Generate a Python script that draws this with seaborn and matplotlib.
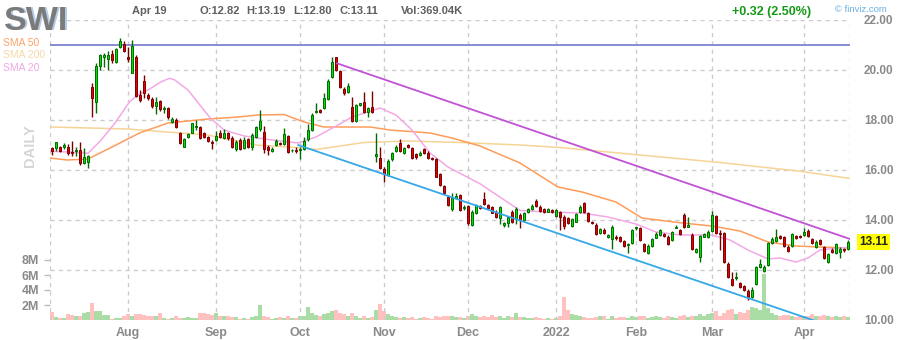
import numpy as np
import pandas as pd
import matplotlib
matplotlib.use("Agg")
import matplotlib.pyplot as plt
import seaborn as sns
from matplotlib.transforms import blended_transform_factory

# ---------------- data ----------------
ticker = "SWI"
month_labels = ["Aug", "Sep", "Oct", "Nov", "Dec", "2022", "Feb", "Mar", "Apr"]
month_index = [19, 41, 62, 83, 104, 126, 146, 165, 188]

opens = [16.87, 16.87, 16.91, 16.91, 16.91, 16.73, 16.76, 16.80, 16.29, 16.32,
         19.31, 18.73, 20.16, 20.51, 20.43, 20.64, 20.33, 20.93, 21.04, 20.51,
         19.89, 20.51, 19.00, 19.56, 19.00, 18.83, 18.56, 18.76, 18.43, 18.47,
         17.92, 18.00, 17.47, 16.93, 17.31, 17.49, 17.74, 17.71, 17.47, 17.31,
         17.13, 17.20, 17.47, 17.27, 17.47, 17.27, 16.83, 17.20, 16.87, 17.23,
         16.93, 17.31, 17.63, 17.53, 16.93, 16.76, 17.00, 17.09, 17.04, 17.36,
         16.78, 16.80, 16.79, 16.83, 17.23, 17.60, 18.32, 18.40, 18.47, 18.83,
         19.71, 20.51, 19.97, 19.23, 19.13, 18.51, 17.97, 18.60, 18.73, 18.33,
         18.53, 16.56, 16.47, 16.03, 15.80, 16.43, 16.77, 17.09, 16.67, 17.00,
         16.87, 16.64, 16.60, 16.83, 16.69, 16.47, 16.43, 15.84, 15.36, 14.93,
         14.43, 14.87, 15.00, 14.47, 14.56, 13.80, 14.29, 14.56, 14.83, 14.60,
         14.51, 14.33, 14.07, 13.80, 13.89, 14.33, 14.04, 14.20, 14.00, 14.31,
         14.44, 14.76, 14.53, 14.44, 14.33, 14.40, 14.17, 14.31, 14.13, 14.09,
         13.77, 13.93, 14.31, 14.67, 14.27, 13.91, 13.80, 13.47, 13.60, 13.33,
         13.24, 13.33, 13.33, 13.16, 13.00, 13.07, 13.67, 13.69, 13.03, 12.67,
         12.97, 13.29, 13.40, 13.43, 13.33, 13.20, 13.69, 13.60, 14.20, 13.73,
         13.40, 12.73, 12.51, 13.33, 13.31, 13.57, 14.16, 13.49, 13.49, 12.24,
         11.63, 11.67, 11.49, 11.36, 11.17, 10.91, 11.44, 12.13, 11.97, 12.20,
         13.09, 13.17, 13.36, 13.33, 12.93, 12.96, 13.36, 13.36, 13.40, 13.57,
         13.23, 12.93, 13.20, 12.93, 12.33, 12.80, 12.67, 12.73, 12.83, 12.82]
highs = [16.93, 17.13, 16.95, 17.07, 17.04, 17.17, 16.93, 17.10, 16.90, 16.62,
         19.49, 20.27, 20.64, 20.69, 20.77, 20.80, 20.87, 21.27, 21.17, 20.93,
         21.20, 20.60, 19.20, 19.80, 19.07, 18.93, 18.93, 18.80, 18.56, 18.51,
         18.11, 18.07, 17.53, 17.27, 17.49, 17.89, 18.00, 17.76, 17.53, 17.36,
         17.20, 17.57, 17.60, 17.63, 17.53, 17.36, 17.20, 17.27, 17.31, 17.27,
         17.47, 17.76, 18.40, 17.76, 17.00, 16.91, 17.23, 17.13, 17.67, 17.40,
         16.84, 16.93, 16.93, 17.31, 17.84, 18.27, 18.67, 18.43, 19.09, 19.63,
         20.53, 20.53, 20.00, 19.33, 19.47, 18.93, 18.64, 18.69, 19.13, 18.53,
         19.17, 17.47, 16.93, 16.13, 16.43, 16.73, 17.00, 17.23, 16.93, 17.04,
         16.93, 16.69, 16.77, 16.87, 16.77, 16.51, 16.47, 15.89, 15.40, 15.00,
         15.07, 15.09, 15.04, 14.60, 14.60, 14.40, 14.64, 14.60, 15.13, 14.64,
         14.56, 14.40, 14.56, 13.93, 14.16, 14.40, 14.52, 14.27, 14.33, 14.49,
         14.63, 14.84, 14.60, 14.49, 14.47, 14.44, 14.44, 14.36, 14.20, 14.13,
         14.09, 14.27, 14.60, 14.73, 14.33, 13.96, 13.87, 13.69, 13.67, 13.43,
         13.80, 13.40, 13.37, 13.20, 13.07, 13.64, 13.73, 13.73, 13.07, 13.03,
         13.29, 13.51, 13.64, 13.47, 13.40, 13.56, 13.80, 13.64, 14.27, 14.13,
         13.47, 12.87, 13.40, 13.49, 13.60, 14.37, 14.20, 13.60, 13.53, 12.33,
         11.93, 11.93, 11.53, 11.40, 11.23, 11.31, 12.16, 12.43, 12.20, 13.13,
         13.31, 13.63, 13.40, 13.36, 13.00, 13.49, 13.40, 13.40, 13.67, 13.63,
         13.27, 13.20, 13.23, 12.96, 12.69, 12.87, 13.09, 12.93, 12.87, 13.19]
lows = [16.60, 16.77, 16.72, 16.85, 16.60, 16.56, 16.55, 16.22, 16.25, 16.09,
        18.13, 18.29, 20.00, 20.11, 20.00, 20.29, 20.27, 20.87, 20.73, 20.33,
        19.87, 18.93, 18.73, 18.87, 18.80, 18.47, 18.24, 18.37, 18.27, 18.03,
        17.87, 17.67, 17.04, 16.91, 17.27, 17.47, 17.60, 17.23, 17.27, 17.13,
        16.83, 17.17, 17.27, 17.23, 17.20, 16.87, 16.77, 16.80, 16.83, 16.90,
        16.80, 17.27, 17.57, 16.67, 16.60, 16.73, 16.96, 17.00, 17.00, 16.69,
        16.72, 16.67, 16.43, 16.80, 17.17, 17.57, 18.27, 18.29, 18.43, 18.80,
        19.67, 19.97, 19.27, 19.00, 19.07, 17.93, 17.93, 18.56, 18.28, 18.11,
        18.29, 16.33, 16.03, 15.53, 15.76, 16.37, 16.73, 16.73, 16.64, 16.87,
        16.43, 16.43, 16.56, 16.64, 16.43, 16.40, 15.71, 15.36, 15.04, 14.56,
        14.37, 14.83, 14.37, 14.40, 13.80, 13.76, 14.25, 14.44, 14.60, 14.44,
        14.27, 14.07, 13.84, 13.73, 13.73, 13.89, 13.84, 13.69, 13.96, 14.27,
        14.40, 14.53, 14.33, 14.27, 14.31, 14.28, 14.13, 13.60, 13.64, 13.83,
        13.73, 13.91, 14.27, 14.27, 13.93, 13.83, 13.40, 13.43, 13.43, 13.29,
        12.84, 13.20, 13.13, 12.93, 12.67, 13.03, 13.60, 13.16, 12.73, 12.63,
        12.93, 13.27, 13.37, 13.33, 13.00, 13.16, 13.67, 13.40, 13.67, 13.71,
        12.80, 12.69, 12.33, 13.31, 13.27, 13.53, 13.44, 12.80, 12.27, 11.67,
        11.36, 11.60, 11.27, 11.17, 10.80, 10.87, 11.40, 12.07, 11.93, 12.16,
        13.04, 13.13, 13.23, 12.93, 12.73, 12.93, 13.23, 13.27, 13.36, 13.33,
        13.04, 12.87, 13.00, 12.43, 12.27, 12.69, 12.64, 12.47, 12.73, 12.80]
closes = [16.77, 17.11, 16.77, 17.00, 16.67, 16.67, 16.78, 16.29, 16.53, 16.56,
          18.87, 20.16, 20.60, 20.60, 20.60, 20.40, 20.83, 21.16, 20.77, 20.43,
          20.96, 18.97, 18.80, 19.07, 18.87, 18.56, 18.73, 18.43, 18.47, 18.11,
          18.03, 17.71, 17.07, 17.23, 17.44, 17.87, 17.77, 17.27, 17.33, 17.17,
          17.09, 17.36, 17.31, 17.47, 17.27, 16.91, 17.13, 16.83, 17.20, 16.93,
          17.40, 17.71, 17.96, 16.83, 16.80, 16.85, 17.17, 17.04, 17.44, 16.73,
          16.80, 16.76, 16.80, 17.17, 17.60, 18.20, 18.36, 18.32, 18.87, 19.57,
          20.31, 20.00, 19.31, 19.07, 19.36, 17.97, 18.60, 18.67, 18.33, 18.47,
          18.33, 16.64, 16.07, 15.84, 16.37, 16.69, 16.91, 16.77, 16.87, 16.91,
          16.47, 16.51, 16.69, 16.67, 16.47, 16.43, 15.73, 15.40, 15.09, 14.60,
          14.87, 14.96, 14.40, 14.53, 13.87, 14.33, 14.60, 14.47, 14.64, 14.47,
          14.29, 14.11, 14.51, 13.87, 14.11, 13.93, 14.44, 14.00, 14.27, 14.44,
          14.57, 14.57, 14.36, 14.33, 14.44, 14.33, 14.40, 14.13, 13.77, 13.87,
          14.04, 14.23, 14.53, 14.31, 13.96, 13.87, 13.43, 13.64, 13.47, 13.40,
          13.73, 13.27, 13.16, 12.97, 13.03, 13.60, 13.69, 13.20, 12.76, 12.97,
          13.24, 13.43, 13.60, 13.37, 13.03, 13.51, 13.73, 13.43, 13.71, 13.80,
          12.83, 12.83, 13.36, 13.44, 13.53, 14.20, 13.47, 13.44, 12.33, 11.71,
          11.40, 11.71, 11.31, 11.20, 10.91, 11.20, 12.13, 12.24, 12.13, 13.09,
          13.23, 13.31, 13.27, 12.96, 12.77, 13.44, 13.27, 13.31, 13.53, 13.36,
          13.07, 13.13, 13.04, 12.47, 12.64, 12.73, 13.04, 12.83, 12.79, 13.11]
volumes_m = [1.1, 0.4, 0.3, 0.3, 0.8, 0.7, 0.6, 0.6, 0.9, 1.1,
             2.3, 1.2, 1.2, 0.7, 0.7, 0.2, 0.3, 0.3, 0.5, 0.8,
             0.6, 0.8, 0.8, 0.7, 0.6, 0.6, 0.6, 1.0, 0.3, 0.2,
             0.3, 0.5, 0.3, 0.3, 0.4, 0.3, 0.3, 0.9, 0.9, 0.8,
             0.7, 0.9, 0.5, 0.5, 0.6, 0.4, 0.4, 0.2, 0.3, 0.2,
             0.4, 0.5, 2.0, 0.6, 0.4, 0.2, 0.3, 0.4, 0.3, 0.6,
             0.3, 0.3, 0.6, 0.6, 1.7, 0.9, 0.7, 0.5, 0.8, 1.0,
             1.2, 1.4, 1.0, 0.8, 0.5, 0.9, 0.5, 0.3, 0.6, 0.3,
             0.4, 1.3, 2.2, 1.2, 0.8, 0.5, 0.4, 0.3, 0.4, 0.3,
             0.4, 0.2, 0.3, 0.4, 0.3, 0.2, 0.6, 0.4, 0.5, 0.6,
             0.5, 0.4, 0.4, 0.3, 0.6, 0.8, 0.5, 0.4, 0.6, 0.4,
             0.7, 0.4, 0.6, 0.3, 0.5, 0.4, 1.0, 0.4, 0.4, 0.3,
             0.3, 0.4, 0.3, 0.2, 0.3, 0.2, 0.3, 0.6, 3.1, 1.4,
             0.8, 0.7, 0.5, 0.4, 0.3, 0.3, 0.4, 0.5, 0.5, 0.2,
             0.6, 0.3, 0.4, 0.4, 0.3, 0.5, 0.4, 0.6, 0.5, 0.3,
             0.4, 0.5, 0.4, 0.3, 0.6, 0.4, 0.3, 0.5, 0.7, 0.4,
             0.6, 0.5, 0.8, 0.5, 0.8, 0.9, 1.2, 0.6, 0.9, 1.4,
             1.5, 0.8, 1.1, 1.0, 1.4, 1.7, 1.6, 1.3, 6.2, 1.6,
             1.0, 0.7, 0.6, 0.7, 0.7, 0.5, 0.4, 0.5, 0.5, 0.6,
             0.8, 0.6, 0.5, 0.7, 0.6, 0.4, 0.5, 0.4, 0.5, 0.37]

# moving averages at sample positions (trading-day index, price)
sma20_idx = [-0.5, 4, 9, 12.3, 15.7, 19.4, 21.5, 24, 27.3, 29.4, 30.7, 34, 37.3, 39.4,
             43, 48, 55, 61.5, 66, 71.5, 75, 82, 86, 90, 94.5, 99, 107, 117, 124,
             132.5, 139, 146, 151, 157, 165, 169.5, 174, 179, 182, 186, 189, 192, 199.5]
sma20_val = [16.75, 16.72, 16.67, 17.20, 17.87, 18.73, 19.00, 19.20, 19.53, 19.67, 19.60,
             19.20, 18.53, 18.11, 17.60, 17.36, 17.20, 17.08, 17.32, 17.80, 18.12, 18.48,
             18.20, 17.60, 16.68, 16.12, 15.45, 14.38, 14.32, 14.28, 14.12, 13.84, 13.52,
             13.40, 13.40, 13.20, 12.80, 12.44, 12.48, 12.32, 12.48, 12.80, 12.92]
sma50_idx = [-0.5, 3.75, 9, 16, 22, 29, 39, 46.5, 51.5, 58, 63, 68, 79.5, 84.5, 94.5,
             100, 107, 117, 126.5, 132.5, 141, 147.5, 157.5, 165, 172, 179, 186, 192, 199.5]
sma50_val = [16.48, 16.40, 16.44, 17.00, 17.49, 17.88, 18.04, 18.12, 18.20, 18.22, 17.92,
             17.72, 17.72, 17.60, 17.48, 17.28, 16.96, 16.28, 15.32, 15.12, 14.72, 14.08,
             13.88, 13.76, 13.56, 13.12, 12.96, 12.92, 12.88]
sma200_idx = [-0.5, 19, 32, 39, 51, 63, 66, 78, 89, 102, 117, 127, 147, 167, 187, 199.5]
sma200_val = [17.72, 17.64, 17.48, 17.40, 17.00, 16.88, 16.82, 17.10, 17.16, 17.10,
              17.00, 16.90, 16.60, 16.30, 15.95, 15.66]

resistance_idx = [71.2, 199.5]
resistance_val = [20.27, 13.24]
support_idx = [61.5, 199.5]
support_val = [17.00, 9.49]
high_level = 21.0

header_date = "Apr 19"
header_ohlc = ["O:12.82", "H:13.19", "L:12.80", "C:13.11"]
header_vol = "Vol:369.04K"
header_change = "+0.32 (2.50%)"
last_price = 13.11

# ---------------- styling ----------------
sns.set_style("white")
plt.rcParams['font.family'] = ['Liberation Sans', 'DejaVu Sans']

W, H = 900, 340
fig = plt.figure(figsize=(9, 3.4), dpi=100)
rect = [50 / W, 20 / H, 800 / W, 300 / H]
axv = fig.add_axes(rect)
ax = fig.add_axes(rect, sharex=axv)
ax.patch.set_alpha(0)

n = len(closes)
idx = np.arange(n)
o = np.array(opens); c = np.array(closes); hi = np.array(highs); lo = np.array(lows)
up = c >= o

# volume
vcol = np.where(up, '#aadda6', '#ffc0c0')
axv.bar(idx, volumes_m, width=1.0, color=vcol, linewidth=0, zorder=1)
axv.set_ylim(0, 40)
axv.set_xlim(-0.5, n - 0.5)
axv.set_yticks([2, 4, 6, 8])
axv.set_yticklabels(["2M", "4M", "6M", "8M"])
axv.tick_params(axis='y', length=4, width=1, color='#bbbbbb', pad=4,
                labelsize=9, labelcolor='#8a8a8a', left=True)
for t in axv.get_yticklabels():
    t.set_fontweight('bold')
axv.set_xticks(month_index)
axv.set_xticklabels(month_labels)
axv.tick_params(axis='x', length=0, pad=5, labelsize=9, labelcolor='#8a8a8a')
for t in axv.get_xticklabels():
    t.set_fontweight('bold')
for s in axv.spines.values():
    s.set_visible(False)

# price axis
ax.set_ylim(10, 22)
ax.set_xlim(-0.5, n - 0.5)
for s in ax.spines.values():
    s.set_visible(False)
ax.yaxis.tick_right()
ax.set_yticks([10, 12, 14, 16, 18, 20, 22])
ax.set_yticklabels([f"{v:.2f}" for v in [10, 12, 14, 16, 18, 20, 22]])
ax.tick_params(axis='y', length=0, pad=10, labelsize=8.5, labelcolor='#8a8a8a', right=True, left=False)
for t in ax.get_yticklabels():
    t.set_fontweight('bold')
ax.tick_params(axis='x', length=0, labelbottom=False)

# dashed grid
gcol = '#cccccc'
for yv in [12, 14, 16, 18, 20, 22]:
    ax.axhline(yv, color=gcol, lw=1, ls=(0, (3, 3)), zorder=0)
for xv in month_index + [-0.5, n - 0.5]:
    ax.axvline(xv, color=gcol, lw=1, ls=(0, (3, 3)), zorder=0)

# moving averages
sns.lineplot(x=sma200_idx, y=sma200_val, ax=ax, color='#f5d496', lw=1.1, zorder=2)
sns.lineplot(x=sma50_idx, y=sma50_val, ax=ax, color='#ff9c5a', lw=1.1, zorder=2)
sns.lineplot(x=sma20_idx, y=sma20_val, ax=ax, color='#f4a8e6', lw=1.1, zorder=2)

# horizontal level and trend lines
ax.axhline(high_level, color='#7f82d2', lw=1.3, zorder=2)
sns.lineplot(x=resistance_idx, y=resistance_val, ax=ax, color='#c152d6', lw=1.3, zorder=5)
sns.lineplot(x=support_idx, y=support_val, ax=ax, color='#35a8e8', lw=1.3, zorder=5)

# candles
edge = np.where(up, '#006b00', '#7a0000')
body = np.where(up, '#00e000', '#e60000')
ax.vlines(idx, lo, hi, colors=edge, lw=1, zorder=3)
heights = np.maximum(np.abs(c - o), 0.03)
ax.bar(idx, heights, bottom=np.minimum(o, c), width=0.72, color=body,
       edgecolor=edge, linewidth=0.7, zorder=4)

# last price box
trans = blended_transform_factory(ax.transAxes, ax.transData)
ax.text(1.0 + 9 / 800, last_price, f"{last_price:.2f}", transform=trans, ha='left', va='center',
        fontsize=8.5, fontweight='bold', color='#222222',
        bbox=dict(boxstyle='square,pad=0.15', fc='#ffff00', ec='none'), zorder=10, clip_on=False)

def px(x, y):
    return x / W, 1 - y / H

# header texts
fig.text(*px(5.5, 30.5), ticker, fontsize=24.5, fontweight='bold', color='#b5cce6', va='baseline')
fig.text(*px(4, 29.5), ticker, fontsize=24.5, fontweight='bold', color='#7b7b7b', va='baseline')
fig.text(*px(132, 14), header_date, fontsize=8, fontweight='bold', color='#5f5f5f', va='baseline')
for xpos, s in zip([200, 246, 293, 339], header_ohlc):
    fig.text(*px(xpos, 14), s, fontsize=8, fontweight='bold', color='#5f5f5f', va='baseline')
fig.text(*px(401, 14), header_vol, fontsize=8, fontweight='bold', color='#5f5f5f', va='baseline')
fig.text(*px(732, 15), header_change, fontsize=9, fontweight='bold', color='#159a15', va='baseline')
fig.text(*px(835, 12), "\u00a9 finviz.com", fontsize=6.8, color='#6aaee0', va='baseline')

# legend of moving averages
fig.text(*px(3, 46), "SMA 50", fontsize=7.5, color='#ffa26a', va='baseline')
fig.text(*px(3, 58.5), "SMA 200", fontsize=7.5, color='#f5d9a8', va='baseline')
fig.text(*px(3, 71), "SMA 20", fontsize=7.5, color='#f0a8e2', va='baseline')
fig.text(*px(30, 146), "DAILY", fontsize=10.5, fontweight='bold', color='#d6d6d6',
         rotation=90, ha='center', va='center')

fig.savefig("out.png", dpi=100)
